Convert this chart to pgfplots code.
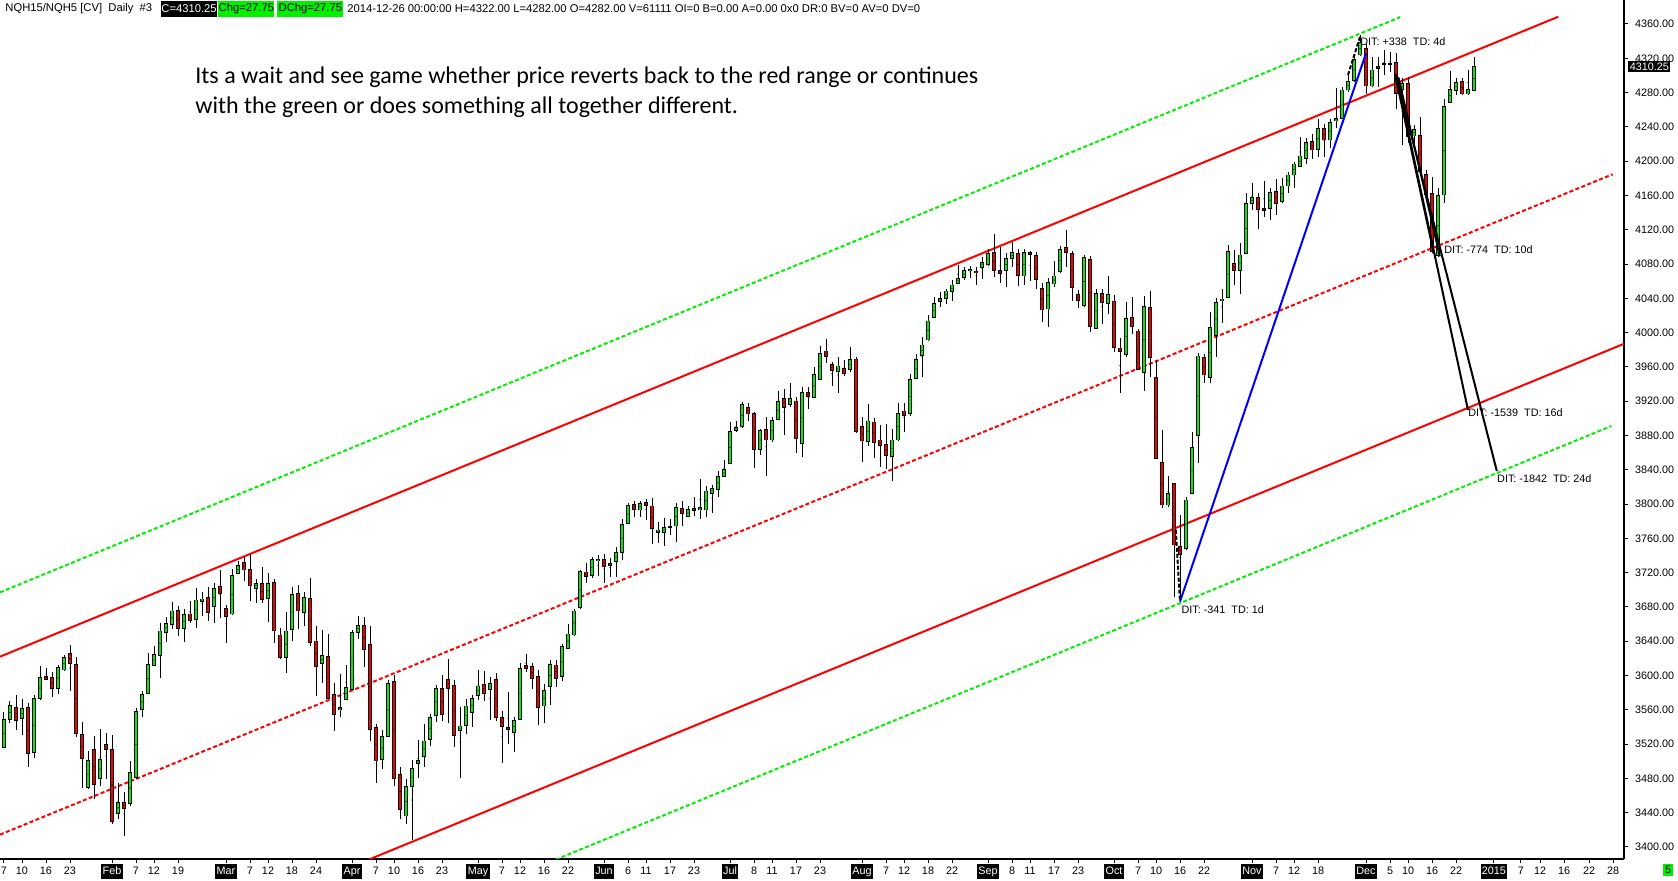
\documentclass[border=0pt]{standalone}
\usepackage{fontspec}
\usepackage{pgfplots}
\usepackage{pgfplotstable}
\pgfplotsset{compat=1.18}
\setmainfont{Liberation Sans}
\newfontfamily\annfont{Carlito}
\definecolor{cgreen}{RGB}{0,240,0}
\definecolor{cred}{RGB}{240,0,0}
\definecolor{lgreen}{RGB}{0,240,0}
\definecolor{lred}{RGB}{255,0,0}
\newcommand\lab{\fontsize{5.4pt}{6pt}\selectfont}
\newcommand\hdr{\fontsize{5.62pt}{6pt}\selectfont}
\newcommand\mb[1]{{\setlength\fboxsep{0.7pt}\colorbox{black}{\textcolor{white}{\rule[-1.4pt]{0pt}{6pt}#1}}}}
\pgfplotsset{nomark/.style={only marks, mark=*, mark size=0.01pt, mark options={draw=none, fill=none}}}

\pgfplotstableread{
i O H L C
3 3516.3 3557.1 3516.0 3548.9
4 3549.0 3570.3 3545.0 3565.2
5 3562.9 3577.3 3536.5 3547.8
6 3550.0 3572.3 3530.7 3561.8
7 3563.0 3567.6 3493.7 3509.3
8 3510.4 3577.3 3504.2 3573.4
9 3573.0 3611.1 3571.5 3597.9
10 3599.1 3608.8 3594.8 3595.6
11 3597.9 3604.5 3575.4 3584.7
12 3584.7 3611.9 3578.5 3609.6
13 3606.5 3624.4 3605.7 3621.2
14 3625.9 3635.2 3582.4 3613.9
15 3613.1 3621.2 3528.7 3532.6
16 3531.4 3545.8 3469.2 3503.4
17 3469.2 3512.0 3467.3 3501.1
18 3513.9 3529.5 3455.6 3473.1
19 3479.7 3537.3 3471.2 3502.3
20 3519.8 3532.6 3479.7 3513.9
21 3513.9 3530.3 3426.5 3429.6
22 3439.3 3474.3 3432.3 3452.1
23 3452.1 3463.8 3413.2 3445.1
24 3450.6 3500.3 3448.2 3487.1
25 3480.9 3561.8 3479.3 3558.3
26 3560.6 3582.0 3552.0 3578.1
27 3579.3 3626.7 3578.5 3613.1
28 3611.9 3634.5 3611.1 3624.7
29 3623.6 3660.9 3597.5 3651.9
30 3650.4 3667.9 3639.5 3660.9
31 3659.7 3685.8 3654.7 3675.3
32 3676.1 3681.1 3646.5 3655.1
33 3655.1 3677.6 3639.5 3671.4
34 3671.8 3687.0 3661.7 3664.4
35 3665.6 3702.1 3655.8 3688.1
36 3686.6 3697.8 3669.5 3689.3
37 3691.2 3703.7 3663.6 3673.7
38 3680.7 3708.3 3661.7 3701.7
39 3703.7 3723.1 3666.7 3695.9
40 3678.4 3682.3 3638.3 3669.1
41 3671.8 3723.9 3670.6 3716.9
42 3719.2 3733.2 3718.4 3728.5
43 3731.7 3738.7 3710.7 3723.1
44 3723.9 3741.8 3687.3 3704.4
45 3701.7 3712.2 3685.0 3707.6
46 3707.6 3726.2 3685.0 3688.9
47 3690.1 3719.2 3662.8 3707.6
48 3708.7 3712.2 3637.6 3652.0
49 3647.3 3655.1 3619.3 3621.2
50 3621.2 3674.5 3603.4 3651.9
51 3653.9 3703.7 3640.7 3694.7
52 3695.9 3705.6 3653.9 3675.3
53 3673.7 3697.8 3657.8 3691.2
54 3690.1 3714.2 3634.8 3638.7
55 3640.3 3657.8 3576.5 3610.4
56 3614.2 3653.1 3591.7 3623.2
57 3622.0 3648.5 3572.6 3573.4
58 3578.1 3590.9 3535.7 3554.8
59 3560.2 3601.4 3552.0 3562.9
60 3572.2 3611.9 3571.5 3586.3
61 3583.9 3653.1 3583.1 3650.4
62 3650.4 3669.5 3643.0 3658.6
63 3658.6 3668.7 3610.4 3630.6
64 3636.4 3657.8 3523.7 3537.3
65 3539.6 3543.5 3475.1 3500.3
66 3502.3 3536.5 3491.4 3528.7
67 3528.7 3594.8 3527.9 3590.9
68 3593.2 3600.6 3471.2 3480.1
69 3484.8 3493.7 3432.3 3443.9
70 3436.2 3478.9 3426.5 3470.4
71 3470.4 3501.5 3408.2 3491.4
72 3497.6 3524.8 3480.9 3501.1
73 3505.4 3543.5 3493.7 3523.7
74 3525.6 3555.1 3517.8 3551.3
75 3553.6 3589.0 3545.8 3585.1
76 3585.1 3600.6 3547.0 3554.8
77 3595.6 3619.3 3545.0 3585.1
78 3588.6 3594.8 3517.0 3530.3
79 3536.1 3563.7 3480.9 3541.2
80 3541.9 3572.3 3531.4 3564.5
81 3557.1 3577.3 3540.4 3573.4
82 3576.9 3606.5 3571.5 3587.8
83 3589.8 3605.3 3570.7 3579.3
84 3583.9 3598.7 3548.2 3590.9
85 3595.6 3603.4 3547.4 3551.3
86 3551.3 3559.0 3498.4 3540.4
87 3539.6 3580.4 3519.8 3537.3
88 3533.8 3552.0 3510.8 3547.4
89 3548.9 3614.2 3548.2 3608.4
90 3611.9 3624.7 3604.5 3608.4
91 3610.4 3615.0 3584.7 3596.7
92 3598.7 3606.5 3541.9 3562.9
93 3564.5 3590.1 3544.3 3582.4
94 3587.0 3618.1 3565.6 3613.1
95 3612.3 3618.1 3586.2 3596.7
96 3598.7 3636.8 3594.0 3633.7
97 3631.7 3660.1 3630.5 3648.4
98 3647.3 3678.0 3646.1 3675.3
99 3679.2 3723.1 3678.0 3721.1
100 3720.8 3731.6 3708.3 3715.3
101 3716.9 3738.6 3714.1 3735.5
102 3734.7 3740.6 3716.1 3735.9
103 3735.5 3741.7 3708.3 3727.0
104 3728.5 3736.7 3715.3 3730.9
105 3732.8 3750.3 3715.3 3743.7
106 3743.7 3782.2 3734.7 3776.4
107 3777.5 3800.9 3776.7 3798.5
108 3799.7 3803.6 3784.5 3793.9
109 3793.1 3804.0 3785.3 3800.9
110 3802.0 3805.9 3781.4 3798.1
111 3797.7 3806.7 3753.0 3771.7
112 3767.0 3778.7 3754.2 3769.7
113 3767.0 3784.1 3751.5 3772.8
114 3772.8 3782.2 3763.9 3773.6
115 3774.4 3800.9 3756.1 3796.2
116 3795.0 3803.6 3774.8 3789.2
117 3785.3 3797.7 3784.5 3793.9
118 3792.5 3807.9 3786.1 3795.0
119 3793.5 3829.2 3782.2 3796.0
120 3793.1 3821.1 3784.5 3815.2
121 3812.5 3822.2 3790.0 3818.3
122 3817.2 3838.6 3808.6 3831.9
123 3831.9 3851.4 3831.2 3840.5
124 3847.5 3895.3 3846.3 3884.4
125 3885.6 3896.9 3884.4 3889.5
126 3890.3 3918.7 3889.1 3916.3
127 3912.8 3917.5 3897.3 3905.1
128 3905.8 3907.0 3842.4 3863.8
129 3863.8 3887.2 3857.2 3885.6
130 3887.2 3901.2 3833.1 3874.7
131 3874.7 3901.2 3872.8 3897.3
132 3898.8 3931.9 3898.0 3919.8
133 3923.3 3934.2 3880.5 3912.8
134 3916.3 3940.8 3913.6 3923.3
135 3920.2 3925.3 3860.0 3876.3
136 3870.8 3936.2 3855.3 3930.3
137 3930.3 3936.9 3910.9 3925.3
138 3924.5 3959.5 3923.3 3951.3
139 3945.5 3984.4 3944.7 3975.8
140 3978.5 3992.1 3964.2 3971.9
141 3963.0 3966.1 3938.1 3955.6
142 3954.4 3971.2 3929.9 3961.0
143 3958.3 3968.0 3949.8 3952.5
144 3957.2 3983.6 3954.4 3968.8
145 3969.2 3971.9 3883.3 3884.4
146 3890.3 3901.2 3848.7 3873.6
147 3872.8 3916.3 3868.1 3896.9
148 3895.7 3900.0 3853.3 3872.0
149 3874.7 3892.2 3843.6 3868.1
150 3869.7 3893.4 3840.9 3856.5
151 3855.3 3887.6 3827.3 3874.7
152 3874.7 3918.3 3873.9 3905.8
153 3908.6 3918.3 3884.4 3903.1
154 3905.8 3951.3 3903.1 3945.5
155 3946.7 3975.0 3945.5 3968.8
156 3973.1 3995.3 3948.6 3985.5
157 3991.4 4020.5 3990.6 4013.5
158 4017.8 4041.1 4017.0 4034.1
159 4036.1 4047.0 4030.2 4040.0
160 4040.0 4050.9 4033.4 4048.5
161 4047.7 4061.4 4037.2 4055.5
162 4057.5 4078.8 4056.7 4063.3
163 4064.1 4076.9 4061.4 4072.6
164 4072.6 4077.7 4064.1 4073.8
165 4071.9 4076.9 4055.5 4070.7
166 4076.1 4087.8 4062.5 4082.0
167 4079.6 4097.1 4077.7 4092.5
168 4093.6 4115.0 4065.2 4072.2
169 4072.6 4099.5 4057.5 4069.1
170 4072.2 4093.2 4053.6 4086.6
171 4086.6 4105.3 4076.9 4093.6
172 4092.5 4097.1 4054.7 4066.4
173 4066.0 4097.1 4055.5 4093.6
174 4093.6 4095.6 4060.6 4091.3
175 4090.1 4093.6 4050.5 4062.1
176 4051.6 4057.5 4012.0 4026.4
177 4027.5 4063.3 4006.1 4058.6
178 4056.7 4083.9 4052.8 4066.0
179 4071.5 4101.0 4069.9 4097.1
180 4099.5 4119.7 4076.9 4093.6
181 4092.5 4095.6 4037.2 4052.8
182 4044.6 4049.7 4029.1 4037.2
183 4031.4 4090.5 4030.2 4087.8
184 4085.5 4089.7 4000.3 4006.9
185 4005.0 4050.5 4003.8 4045.8
186 4045.8 4050.9 4009.6 4034.9
187 4034.1 4066.0 4021.7 4044.6
188 4036.9 4043.9 3977.0 3982.8
189 3982.0 3994.1 3929.2 3977.8
190 3974.7 4035.3 3971.9 4016.6
191 4017.8 4041.1 3998.0 4006.9
192 4001.9 4004.2 3956.4 3957.2
193 3953.7 4042.7 3932.3 4030.2
194 4029.5 4048.5 3948.6 3971.1
195 3947.8 3968.0 3852.2 3853.3
196 3848.7 3886.4 3795.0 3798.9
197 3798.9 3832.7 3797.0 3812.5
198 3824.2 3825.0 3692.0 3752.3
199 3750.3 3787.2 3688.1 3741.4
200 3748.4 3807.9 3746.4 3804.7
201 3812.5 3883.7 3811.7 3866.2
202 3879.8 3975.8 3847.5 3972.7
203 3971.1 3975.0 3940.8 3950.6
204 3947.8 4024.4 3940.8 4006.1
205 3996.4 4040.0 3971.9 4035.3
206 4036.9 4050.9 4010.8 4039.2
207 4041.1 4102.2 4040.7 4094.8
208 4080.8 4096.3 4055.5 4072.2
209 4072.2 4104.1 4045.0 4090.5
210 4092.5 4163.3 4091.8 4150.9
211 4150.9 4174.2 4143.1 4157.9
212 4157.9 4162.5 4120.9 4143.9
213 4145.1 4176.9 4135.3 4142.3
214 4145.1 4168.4 4131.4 4163.7
215 4164.5 4178.9 4137.3 4150.9
216 4152.8 4180.0 4150.9 4171.1
217 4171.1 4187.8 4162.5 4183.9
218 4183.9 4199.5 4168.4 4196.7
219 4193.6 4228.6 4192.9 4206.1
220 4203.4 4226.7 4196.7 4222.0
221 4223.2 4231.3 4202.2 4213.1
222 4213.9 4249.2 4205.3 4238.3
223 4238.3 4243.4 4205.3 4224.7
224 4224.7 4249.2 4215.8 4245.3
225 4246.9 4285.0 4239.1 4250.0
226 4250.0 4287.0 4248.8 4283.1
227 4283.1 4304.4 4281.1 4292.8
228 4293.9 4321.9 4292.8 4318.8
229 4323.9 4347.2 4322.7 4338.3
230 4331.7 4336.7 4278.4 4287.7
231 4287.7 4321.2 4286.2 4306.4
232 4308.3 4321.2 4287.0 4310.3
233 4313.4 4329.7 4300.5 4314.2
234 4314.2 4327.8 4304.4 4313.4
235 4315.3 4325.8 4260.5 4279.2
236 4283.8 4296.7 4218.9 4290.8
237 4290.8 4298.6 4221.6 4228.6
238 4229.4 4242.2 4220.1 4237.2
239 4229.8 4252.0 4185.1 4187.8
240 4184.7 4189.7 4156.7 4160.6
241 4162.5 4182.0 4092.5 4094.5
242 4089.8 4168.4 4088.6 4160.2
243 4160.6 4272.6 4151.6 4263.6
244 4268.7 4305.6 4267.5 4283.8
245 4282.3 4296.7 4277.2 4291.6
246 4293.2 4296.7 4277.2 4278.4
247 4278.4 4306.4 4277.2 4283.1
248 4282.0 4322.0 4282.0 4310.25
}\candles

\begin{document}
\begin{tikzpicture}
\useasboundingbox (0,0) rectangle (839pt,-440.5pt);
\begin{axis}[
  at={(0,0)}, anchor=north west,
  scale only axis, width=812pt, height=429.5pt,
  xmin=2.3333, xmax=273, ymin=3386, ymax=4388,
  clip mode=individual,
  axis x line*=bottom, axis y line*=right,
  axis line style={-, line width=0.6pt, black},
  tick align=outside, major tick length=2pt,
  tick style={black, line width=0.5pt},
  ytick={3400,3440,...,4360},
  yticklabel={\pgfmathprintnumber[fixed,fixed zerofill,precision=2,1000 sep={},assume math mode=true]{\tick}},
  yticklabel style={font=\lab, anchor=west},
  xtick={3,6,10,14,21,25,28,32,40,44,47,51,55,61,65,68,72,76,82,86,89,93,97,103,107,110,114,118,124,128,131,135,139,146,150,153,157,161,167,171,174,178,182,188,192,195,199,203,211,215,218,222,230,234,237,241,245,251.33,255.83,259,263,267.17,271.17},
  xticklabels={7,10,16,23,\mb{Feb},7,12,19,\mb{Mar},7,12,18,24,\mb{Apr},7,10,16,23,\mb{May},7,12,16,22,\mb{Jun},6,11,17,23,\mb{Jul},8,11,17,23,\mb{Aug},7,12,18,22,\mb{Sep},8,11,17,23,\mb{Oct},7,10,16,22,\mb{Nov},7,12,18,\mb{Dec},5,10,16,22,\mb{2015},7,12,16,22,28},
  xticklabel style={font=\lab, anchor=base, yshift=-6pt},
]
% channel lines
\addplot[lgreen, line width=1pt, dash pattern=on 2pt off 1.2pt] coordinates {(2.33,3697) (235.7,4368)};
\addplot[lred, line width=1pt] coordinates {(2.33,3622) (262.05,4368.5)};
\addplot[lred, line width=1pt, dash pattern=on 2pt off 1.2pt] coordinates {(2.33,3414.4) (271.1,4184.7)};
\addplot[lred, line width=1pt] coordinates {(60,3374.4) (273,3987)};
\addplot[lgreen, line width=1pt, dash pattern=on 2pt off 1.2pt] coordinates {(90,3371) (270.9,3891.1)};
% wicks
\addplot[nomark, error bars/.cd, y dir=both, y explicit, error mark=none,
  error bar style={black, line width=0.5pt}]
  table[x=i, y expr={(\thisrow{H}+\thisrow{L})/2}, y error expr={(\thisrow{H}-\thisrow{L})/2}] {\candles};
% body outlines
\addplot[nomark, error bars/.cd, y dir=both, y explicit, error mark=none,
  error bar style={black, line width=2.3pt}]
  table[x=i, y expr={(\thisrow{O}+\thisrow{C})/2}, y error expr={abs(\thisrow{C}-\thisrow{O})/2+0.5}] {\candles};
% green bodies
\addplot[nomark, restrict expr to domain={\thisrow{C}-\thisrow{O}}{0:2000},
  error bars/.cd, y dir=both, y explicit, error mark=none,
  error bar style={cgreen, line width=1.4pt}]
  table[x=i, y expr={(\thisrow{O}+\thisrow{C})/2}, y error expr={max(abs(\thisrow{C}-\thisrow{O})/2-0.45,0)}] {\candles};
% red bodies
\addplot[nomark, restrict expr to domain={\thisrow{C}-\thisrow{O}}{-2000:0},
  error bars/.cd, y dir=both, y explicit, error mark=none,
  error bar style={cred, line width=1.4pt}]
  table[x=i, y expr={(\thisrow{O}+\thisrow{C})/2}, y error expr={max(abs(\thisrow{C}-\thisrow{O})/2-0.45,0)}] {\candles};
% drawing tools
\addplot[blue, line width=1pt] coordinates {(199,3686.2) (230,4325.8)};
\addplot[black, line width=1pt] coordinates {(235,4300.5) (247,3909.7)};
\addplot[black, line width=1pt] coordinates {(235,4300.5) (251.8,3838.6)};
\addplot[black, line width=0.9pt] coordinates {(234.8,4302) (241.3,4092)};
\addplot[black, line width=0.9pt] coordinates {(235.4,4298) (242.3,4089)};
\addplot[black, line width=1pt, dash pattern=on 2pt off 1pt] coordinates {(198.3,3770) (199,3686.2)};
\addplot[black, line width=1pt, dash pattern=on 2pt off 1pt] coordinates {(227,4300.5) (229.1,4347.2)};
% labels
\node[font=\lab, anchor=west, inner sep=0pt] at (axis cs:229,4339.4) {DIT: +338\ \ TD: 4d};
\node[font=\lab, anchor=west, inner sep=0pt] at (axis cs:243,4096.4) {DIT: -774\ \ TD: 10d};
\node[font=\lab, anchor=west, inner sep=0pt] at (axis cs:247,3906.2) {DIT: -1539\ \ TD: 16d};
\node[font=\lab, anchor=west, inner sep=0pt] at (axis cs:251.8,3829.3) {DIT: -1842\ \ TD: 24d};
\node[font=\lab, anchor=west, inner sep=0pt] at (axis cs:199.2,3676.4) {DIT: -341\ \ TD: 1d};
\node[font=\annfont\fontsize{12pt}{15pt}\selectfont, anchor=west, inner sep=0pt] at (axis cs:34.83,4298.2) {Its a wait and see game whether price reverts back to the red range or continues};
\node[font=\annfont\fontsize{12pt}{15pt}\selectfont, anchor=west, inner sep=0pt] at (axis cs:34.83,4263.2) {with the green or does something all together different.};
% header
\node[font=\hdr, anchor=west, inner sep=0pt] at ([xshift=2.5pt,yshift=-4.5pt]rel axis cs:0,1) {NQH15/NQH5 [CV]\ \ Daily\ \ \#3};
\node[font=\hdr, anchor=west, fill=black, text=white, inner sep=0pt, minimum width=27pt, minimum height=8pt] at ([xshift=80.5pt,yshift=-4.5pt]rel axis cs:0,1) {C=4310.25};
\node[font=\hdr, anchor=west, fill=lgreen, inner sep=0pt, minimum width=28pt, minimum height=8pt] at ([xshift=109pt,yshift=-4.5pt]rel axis cs:0,1) {Chg=27.75};
\node[font=\hdr, anchor=west, fill=lgreen, inner sep=0pt, minimum width=33pt, minimum height=8pt] at ([xshift=138.5pt,yshift=-4.5pt]rel axis cs:0,1) {DChg=27.75};
\node[font=\hdr, anchor=west, inner sep=0pt] at ([xshift=173.5pt,yshift=-4.5pt]rel axis cs:0,1) {2014-12-26 00:00:00 H=4322.00 L=4282.00 O=4282.00 V=61111 OI=0 B=0.00 A=0.00 0x0 DR:0 BV=0 AV=0 DV=0};
\node[font=\lab, anchor=west, fill=black, text=white, inner sep=0.7pt] at ([xshift=2pt]axis cs:273,4310.25) {4310.25};
\node[font=\lab, fill=lgreen, inner sep=0.9pt] at ([xshift=22pt,yshift=-5.5pt]axis cs:273,3386) {5};
\end{axis}
\end{tikzpicture}
\end{document}
